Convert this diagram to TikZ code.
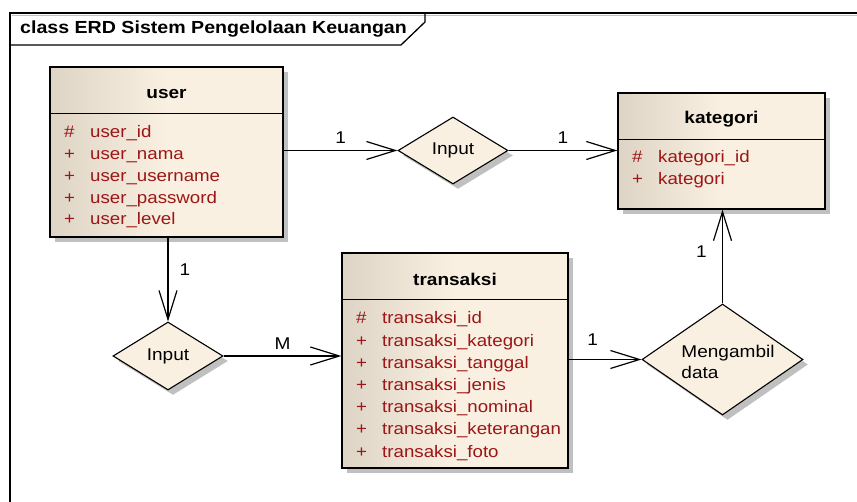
\documentclass[tikz,border=0pt]{standalone}
\usepackage{fontspec}
\setmainfont{Liberation Sans}[FakeStretch=1.12]
\usetikzlibrary{shapes.geometric, arrows.meta, shadows}

\definecolor{entL}{RGB}{222,212,198}
\definecolor{entR}{RGB}{250,240,225}
\definecolor{attr}{RGB}{155,22,22}
\definecolor{shadowgray}{RGB}{192,192,192}

\tikzset{
  boxshadow/.style={drop shadow={shadow xshift=5pt, shadow yshift=-5pt, fill=shadowgray, opacity=1}},
  entity/.style={draw=black, line width=1.3pt, left color=entL, right color=entR,
    middle color=entR, boxshadow, inner sep=0pt, rectangle},
  relation/.style={diamond, draw=black, line width=1.1pt, fill=entR, inner sep=0pt, boxshadow},
  enttitle/.style={font=\fontsize{17}{20}\selectfont\bfseries, text=black, inner sep=0pt},
  attrs/.style={text=attr, inner sep=0pt},
  reltext/.style={font=\fontsize{17}{21}\selectfont, inner sep=0pt, align=left},
  card/.style={font=\fontsize{17}{20}\selectfont, inner sep=0pt},
  conn/.style={line width=1.2pt, -{Straight Barb[length=29pt, width=18pt, line width=1.2pt]}},
  sepline/.style={line width=1.2pt}
}

\newcommand{\attrtable}[2]{%
  \fontsize{16.7}{#1}\selectfont
  \begin{tabular}[t]{@{}p{26pt}@{}l@{}}#2\end{tabular}}

\begin{document}
\begin{tikzpicture}[x=1pt, y=-1pt]
  \useasboundingbox (0,0) rectangle (857,502);
  \clip (0,0) rectangle (857,502);

  % diagram frame with its title tab
  \draw[shadowgray, line width=1.5pt] (12,15.5) -- (857,15.5);
  \draw[line width=1.5pt] (10,502) -- (10,13) -- (857,13);
  \draw[line width=1.3pt] (10,45) -- (401,45) -- (425,22) -- (425,13);
  \node[anchor=west, inner sep=0pt, font=\fontsize{17.5}{20}\selectfont\bfseries] (frametitle)
    at (20,29) {class ERD Sistem Pengelolaan Keuangan};

  % entities
  \node[entity, minimum width=233pt, minimum height=170pt] (user) at (166.5,152) {};
  \draw[sepline] ([yshift=-47pt]user.north west) -- ([yshift=-47pt]user.north east);
  \node[enttitle] (usertitle) at (166.5,94) {user};
  \node[attrs, anchor=base west] (userattrs) at (64,138) {\attrtable{21.75}{%
    \# & user\_id\\
    +  & user\_nama\\
    +  & user\_username\\
    +  & user\_password\\
    +  & user\_level}};

  \node[entity, minimum width=207pt, minimum height=116pt] (kategori) at (721.5,151) {};
  \draw[sepline] ([yshift=-47pt]kategori.north west) -- ([yshift=-47pt]kategori.north east);
  \node[enttitle] (kategorititle) at (721.5,119) {kategori};
  \node[attrs, anchor=base west] (kategoriattrs) at (632,163) {\attrtable{22}{%
    \# & kategori\_id\\
    +  & kategori}};

  \node[entity, minimum width=226pt, minimum height=215pt] (transaksi) at (455,360.5) {};
  \draw[sepline] ([yshift=-47pt]transaksi.north west) -- ([yshift=-47pt]transaksi.north east);
  \node[enttitle] (transaksititle) at (455,279) {transaksi};
  \node[attrs, anchor=base west] (transaksiattrs) at (356,324) {\attrtable{22.2}{%
    \# & transaksi\_id\\
    +  & transaksi\_kategori\\
    +  & transaksi\_tanggal\\
    +  & transaksi\_jenis\\
    +  & transaksi\_nominal\\
    +  & transaksi\_keterangan\\
    +  & transaksi\_foto}};

  % relationships
  \node[relation, minimum width=110pt, minimum height=67pt] (inputA) at (453,150.5) {};
  \node[reltext] (inputAtext) at (inputA.center) {Input};

  \node[relation, minimum width=110pt, minimum height=68pt] (inputB) at (168,356) {};
  \node[reltext] (inputBtext) at (inputB.center) {Input};

  \node[relation, minimum width=161pt, minimum height=111pt] (ambil) at (722.5,359.5) {};
  \node[reltext] (ambiltext) at (728,362) {Mengambil\\data};

  % connectors with cardinalities
  \draw[conn] (user.east |- inputA.west) -- node[card, pos=0.5, yshift=13pt] {1} (inputA.west);
  \draw[conn] (inputA.east) -- node[card, pos=0.5, yshift=13pt] {1} (inputA.east -| kategori.west);
  \draw[conn] (user.south -| inputB.north) -- node[card, pos=0.38, xshift=17pt] {1} (inputB.north);
  \draw[conn] (inputB.east) -- node[card, pos=0.5, yshift=12pt] {M} (inputB.east -| transaksi.west);
  \draw[conn] (transaksi.east |- ambil.west) -- node[card, pos=0.33, yshift=20pt] {1} (ambil.west);
  \draw[conn] (ambil.north) -- node[card, pos=0.55, xshift=-21pt] {1} (ambil.north |- kategori.south);
\end{tikzpicture}
\end{document}
